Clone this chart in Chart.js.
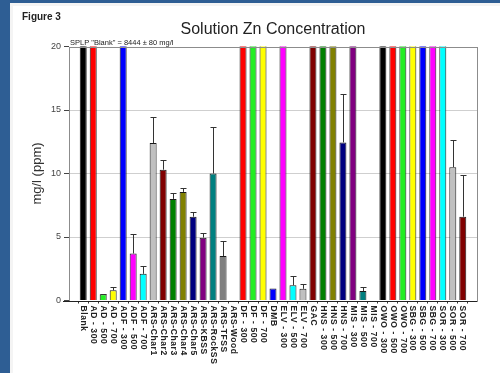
<!DOCTYPE html>
<html>
<head>
<meta charset="utf-8">
<script src="https://cdn.jsdelivr.net/npm/chart.js@4"></script>
<style>
  html, body { margin: 0; padding: 0; background: #2e5e94; }
  #wrap { width: 500px; height: 373px; position: relative; }
</style>
</head>
<body>
<div id="wrap"><canvas id="zn_chart" width="500" height="373"></canvas></div>
<script>
// Sample names (x axis)
const categories = ['Blank', 'AD - 300', 'AD - 500', 'AD - 700', 'ADF - 300', 'ADF - 500', 'ADF - 700',
    'ARS-Char1', 'ARS-Char2', 'ARS-Char3', 'ARS-Char4', 'ARS-Char5', 'ARS-KBSS', 'ARS-RockSS', 'ARS-TFSS', 'ARS-Wood',
    'DF - 300', 'DF - 500', 'DF - 700', 'DMB', 'ELV - 300', 'ELV - 500', 'ELV - 700', 'GAC',
    'HNS - 300', 'HNS - 500', 'HNS - 700', 'MIS - 300', 'MIS - 500', 'MIS - 700',
    'OWO - 300', 'OWO - 500', 'OWO - 700', 'SBG - 300', 'SBG - 500', 'SBG - 700',
    'SOR - 300', 'SOR - 500', 'SOR - 700'];
// Zn concentration, mg/l (bars above 20 run off the top of the plot)
const znValues = [8444, 30, 0.5, 0.8, 30, 3.7, 2.1,
    12.4, 10.3, 8.0, 8.55, 6.6, 4.95, 10.0, 3.5, 0,
    30, 30, 30, 0.95, 30, 1.2, 0.92, 30,
    30, 30, 12.45, 30, 0.75, 0,
    30, 30, 30, 30, 30, 30,
    30, 10.5, 6.6];
// +1 std dev (drawn upward only)
const znErrors = [80, 0, 0.05, 0.25, 0, 1.5, 0.65,
    2.05, 0.8, 0.45, 0.3, 0.4, 0.4, 3.7, 1.2, 0,
    0, 0, 0, 0, 0, 0.7, 0.37, 0,
    0, 0, 3.8, 0, 0.35, 0,
    0, 0, 0, 0, 0, 0,
    0, 2.1, 3.25];
const yTicks = [0, 5, 10, 15, 20];
const chartTitle = 'Solution Zn Concentration';
const yTitle = 'mg/l (ppm)';
const blankNote = 'SPLP "Blank" = 8444 \u00b1 80 mg/l';

// bar colours cycle through this list
const palette = ['#000000', '#ff0000', '#22ee22', '#ffff00', '#0000ff', '#ff00ff', '#00ffff', '#c0c0c0',
    '#800000', '#008000', '#808000', '#000080', '#800080', '#008080', '#808080'];

const FONT = '"Liberation Sans", Arial, sans-serif';

// background panel, frame, texts, error bars, rotated x labels
const decorations = {
    id: 'decorations',
    beforeDraw(chart) {
        const c = chart.ctx;
        c.save();
        c.fillStyle = '#2e5e94';
        c.fillRect(0, 0, chart.width, chart.height);
        c.fillStyle = '#f4f4f4';
        c.fillRect(10, 3, chart.width - 10, chart.height - 3);
        c.fillStyle = '#ffffff';
        c.fillRect(13, 6, chart.width - 13, chart.height - 6);
        c.restore();
    },
    afterDatasetsDraw(chart) {
        const c = chart.ctx;
        const a = chart.chartArea;
        const xs = chart.scales.x, ys = chart.scales.y;
        c.save();
        // error bars
        c.strokeStyle = '#333';
        c.lineWidth = 1;
        znValues.forEach(function (v, i) {
            const e = znErrors[i];
            if (!e || v > ys.max) return;
            const x = Math.round(xs.getPixelForValue(i)) + 0.5;
            const y0 = ys.getPixelForValue(v);
            const y1 = Math.round(ys.getPixelForValue(v + e)) + 0.5;
            c.beginPath();
            c.moveTo(x, y0);
            c.lineTo(x, y1);
            c.moveTo(x - 3, y1);
            c.lineTo(x + 3, y1);
            c.stroke();
        });
        // frame
        c.strokeStyle = '#8c8c8c';
        c.strokeRect(Math.round(a.left) + 0.5, Math.round(a.top) + 0.5, Math.round(a.right - a.left), Math.round(a.bottom - a.top));
        c.strokeStyle = '#222';
        c.beginPath();
        c.moveTo(a.left - 6, Math.round(a.bottom) + 0.5);
        c.lineTo(a.right, Math.round(a.bottom) + 0.5);
        c.stroke();

        // titles
        c.fillStyle = '#222';
        c.font = '16px ' + FONT;
        c.textAlign = 'center';
        c.textBaseline = 'alphabetic';
        c.fillText(chartTitle, (a.left + a.right) / 2, 34);
        c.font = 'bold 10px ' + FONT;
        c.textAlign = 'left';
        c.fillText('Figure 3', 22, 20);
        c.font = '7.5px ' + FONT;
        c.fillText(blankNote, a.left + 1, a.top - 1.5);

        c.save();
        c.translate(37, (a.top + a.bottom) / 2);
        c.rotate(-Math.PI / 2);
        c.font = '13px ' + FONT;
        c.textAlign = 'center';
        c.textBaseline = 'middle';
        c.fillStyle = '#333';
        c.fillText(yTitle, 0, 0);
        c.restore();

        // x labels, reading top to bottom
        c.font = 'bold 8.5px ' + FONT;
        c.fillStyle = '#222';
        c.textAlign = 'left';
        c.textBaseline = 'middle';
        try { c.letterSpacing = '0.6px'; } catch (err) {}
        categories.forEach(function (lab, i) {
            c.save();
            c.translate(xs.getPixelForValue(i), a.bottom + 5);
            c.rotate(Math.PI / 2);
            c.fillText(lab, 0, 0);
            c.restore();
        });
        c.restore();
    }
};

let ctx = document.getElementById('zn_chart').getContext('2d');
const znChart = new Chart(ctx, {
    type: 'bar',
    data: {
        datasets: [{
            label: 'Zn',
            data: znValues.map(function (v, i) { return {x: i, y: v}; }),
            backgroundColor: znValues.map(function (v, i) { return palette[i % palette.length]; }),
            borderColor: '#1a1a1a',
            borderWidth: 1,
            borderSkipped: 'bottom',
            categoryPercentage: 1,
            barPercentage: 0.7
        }]
    },
    options: {
        responsive: false,
        animation: false,
        devicePixelRatio: 1,
        layout: { padding: { left: 43, right: 23, top: 46.5, bottom: 72.5 } },
        plugins: {
            legend: { display: false },
            title: { display: false },
            tooltip: { enabled: false }
        },
        scales: {
            x: {
                type: 'linear',
                min: -0.9,
                max: categories.length - 1 + 0.9,
                afterBuildTicks: function (s) { s.ticks = categories.map(function (c, i) { return {value: i}; }); },
                afterFit: function (s) { s.height = 0; },
                ticks: { display: false },
                grid: { display: true, drawOnChartArea: false, tickLength: 3, tickColor: '#333' },
                border: { display: false }
            },
            y: {
                min: 0,
                max: 20,
                afterBuildTicks: function (s) { s.ticks = yTicks.map(function (v) { return {value: v}; }); },
                afterFit: function (s) { s.width = 26; },
                ticks: { font: { family: FONT, size: 9 }, color: '#444', padding: 3 },
                grid: {
                    color: function (g) { return (g.tick && (g.tick.value === 0 || g.tick.value === 20)) ? 'rgba(0,0,0,0)' : '#cfcfcf'; },
                    tickColor: '#444',
                    tickLength: 5
                },
                border: { display: false }
            }
        }
    },
    plugins: [decorations]
});
</script>
</body>
</html>
